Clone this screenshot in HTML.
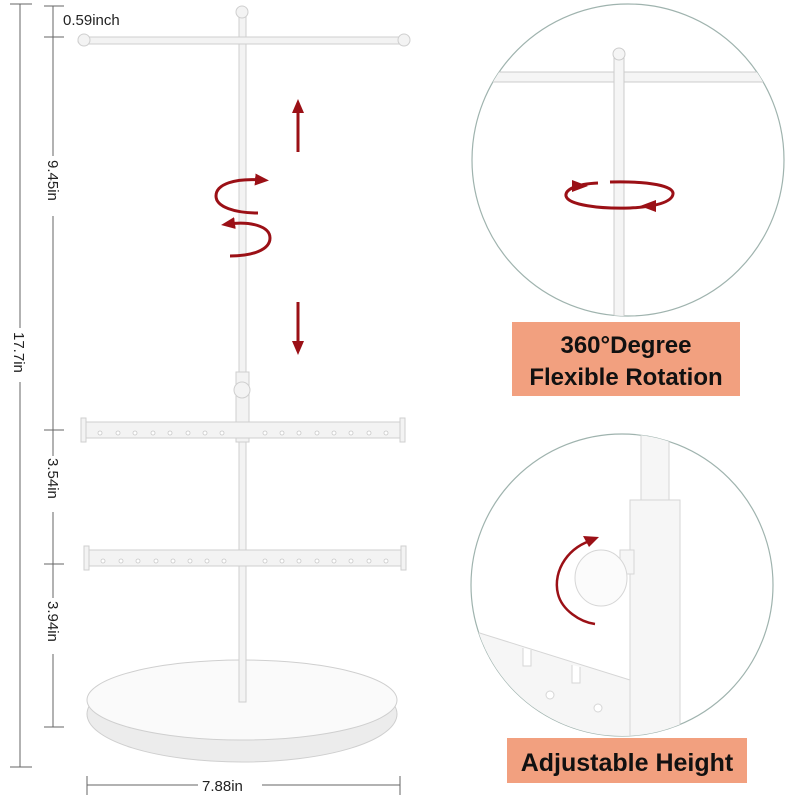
<!DOCTYPE html>
<html><head><meta charset="utf-8"><style>
html,body{margin:0;padding:0;background:#fff;}
svg{display:block;}
text{font-family:"Liberation Sans",Arial,sans-serif;}
</style></head><body>
<svg width="800" height="800" viewBox="0 0 800 800" xmlns="http://www.w3.org/2000/svg">
<defs>
<marker id="ah2" markerWidth="14" markerHeight="12" refX="7" refY="6" orient="auto" markerUnits="userSpaceOnUse">
<path d="M0,0 L14,6 L0,12 Z" fill="#9b1016"/></marker>
<clipPath id="c1"><circle cx="628" cy="160" r="156"/></clipPath>
<clipPath id="c2"><circle cx="622" cy="585" r="151"/></clipPath>
</defs>
<g stroke="#666" stroke-width="1" fill="none">
<line x1="20" y1="4" x2="20" y2="767"/><line x1="10" y1="4" x2="32" y2="4"/><line x1="10" y1="767" x2="32" y2="767"/>
<line x1="53" y1="6" x2="53" y2="37"/><line x1="44" y1="6" x2="64" y2="6"/><line x1="44" y1="37" x2="64" y2="37"/>
<line x1="53" y1="37" x2="53" y2="727"/><line x1="44" y1="430" x2="64" y2="430"/><line x1="44" y1="564" x2="64" y2="564"/><line x1="44" y1="727" x2="64" y2="727"/>
<line x1="87" y1="785" x2="400" y2="785"/><line x1="87" y1="776" x2="87" y2="795"/><line x1="400" y1="776" x2="400" y2="795"/>
</g>
<g fill="#222" font-size="15">
<text x="63" y="25">0.59inch</text>
<rect x="10" y="328" width="20" height="54" fill="#fff"/>
<text transform="translate(14,332) rotate(90)">17.7in</text>
<rect x="45" y="156" width="18" height="60" fill="#fff"/>
<text transform="translate(48,160) rotate(90)">9.45in</text>
<rect x="45" y="456" width="18" height="56" fill="#fff"/>
<text transform="translate(48,458) rotate(90)">3.54in</text>
<rect x="45" y="598" width="18" height="56" fill="#fff"/>
<text transform="translate(48,601) rotate(90)">3.94in</text>
<rect x="198" y="776" width="64" height="20" fill="#fff"/>
<text x="202" y="791">7.88in</text>
</g>
<!-- stand -->
<g fill="#f3f3f3" stroke="#cfcfcf" stroke-width="1">
<ellipse cx="242" cy="714" rx="155" ry="48" fill="#ececec"/>
<ellipse cx="242" cy="700" rx="155" ry="40" fill="#fafafa"/>
<rect x="239" y="12" width="7" height="690"/>
<rect x="78" y="37" width="330" height="7" rx="3"/>
<circle cx="84" cy="40" r="6"/><circle cx="404" cy="40" r="6"/>
<circle cx="242" cy="12" r="6"/>
<rect x="236" y="372" width="13" height="70"/>
<circle cx="242" cy="390" r="8"/>
<rect x="83" y="422" width="320" height="16"/>
<rect x="81" y="418" width="5" height="24"/><rect x="400" y="418" width="5" height="24"/>
<rect x="86" y="550" width="318" height="16"/>
<rect x="84" y="546" width="5" height="24"/><rect x="401" y="546" width="5" height="24"/>
</g>
<g fill="#fff" stroke="#c8c8c8" stroke-width="0.8">
<circle cx="100" cy="433" r="2"/><circle cx="118" cy="433" r="2"/><circle cx="135" cy="433" r="2"/><circle cx="153" cy="433" r="2"/><circle cx="170" cy="433" r="2"/><circle cx="188" cy="433" r="2"/><circle cx="205" cy="433" r="2"/><circle cx="222" cy="433" r="2"/>
<circle cx="265" cy="433" r="2"/><circle cx="282" cy="433" r="2"/><circle cx="299" cy="433" r="2"/><circle cx="317" cy="433" r="2"/><circle cx="334" cy="433" r="2"/><circle cx="351" cy="433" r="2"/><circle cx="369" cy="433" r="2"/><circle cx="386" cy="433" r="2"/>
<circle cx="103" cy="561" r="2"/><circle cx="121" cy="561" r="2"/><circle cx="138" cy="561" r="2"/><circle cx="156" cy="561" r="2"/><circle cx="173" cy="561" r="2"/><circle cx="190" cy="561" r="2"/><circle cx="207" cy="561" r="2"/><circle cx="224" cy="561" r="2"/>
<circle cx="265" cy="561" r="2"/><circle cx="282" cy="561" r="2"/><circle cx="299" cy="561" r="2"/><circle cx="317" cy="561" r="2"/><circle cx="334" cy="561" r="2"/><circle cx="351" cy="561" r="2"/><circle cx="369" cy="561" r="2"/><circle cx="386" cy="561" r="2"/>
</g>
<!-- red arrows -->
<g stroke="#9b1016" stroke-width="3" fill="none">
<line x1="298" y1="152" x2="298" y2="106" marker-end="url(#ah2)"/>
<line x1="298" y1="302" x2="298" y2="348" marker-end="url(#ah2)"/>
<path d="M258,213 C235,213 216,207 216,196 C216,184 235,178 262,180" marker-end="url(#ah2)"/>
<path d="M230,256 C252,256 270,250 270,238 C270,226 250,221 228,224" marker-end="url(#ah2)"/>
</g>
<!-- top circle -->
<circle cx="628" cy="160" r="156" fill="#fff" stroke="#9fb3ae" stroke-width="1.2"/>
<g clip-path="url(#c1)" fill="#f5f5f5" stroke="#ccc">
<rect x="470" y="72" width="330" height="10"/>
<rect x="614" y="55" width="10" height="270"/>
<circle cx="619" cy="54" r="6"/>
</g>
<g stroke="#9b1016" stroke-width="3" fill="none">
<path d="M598,183 C575,184 565,190 566,196 C568,205 600,209 630,208 C655,207 672,202 673,194 C674,186 650,181 610,182"/>
</g>
<path d="M572,180 l16,6 l-16,6 z" fill="#9b1016"/>
<path d="M656,200 l-16,6 l16,6 z" fill="#9b1016"/>
<rect x="512" y="322" width="228" height="74" fill="#f2a07f"/>
<text x="626" y="353" text-anchor="middle" font-size="24" font-weight="bold" fill="#111">360°Degree</text>
<text x="626" y="385" text-anchor="middle" font-size="24" font-weight="bold" fill="#111">Flexible Rotation</text>
<!-- bottom circle -->
<circle cx="622" cy="585" r="151" fill="#fff" stroke="#9fb3ae" stroke-width="1.2"/>
<g clip-path="url(#c2)" fill="#f6f6f6" stroke="#d6d6d6">
<rect x="641" y="420" width="28" height="90"/>
<rect x="630" y="500" width="50" height="240"/>
<path d="M470,630 L630,680 L630,740 L470,740 Z"/>
<path d="M523,648 l0,18 l8,0 l0,-16" fill="#fff"/>
<path d="M572,665 l0,18 l8,0 l0,-16" fill="#fff"/>
<circle cx="550" cy="695" r="4" fill="#fff"/>
<circle cx="598" cy="708" r="4" fill="#fff"/>
<rect x="620" y="550" width="14" height="24"/>
<ellipse cx="601" cy="578" rx="26" ry="28" fill="#fbfbfb"/>
</g>
<path d="M594,540 C570,545 552,570 558,594 C562,610 580,622 595,624" stroke="#9b1016" stroke-width="2.5" fill="none"/>
<path d="M583,536 l16,1 l-10,10 z" fill="#9b1016"/>
<rect x="507" y="738" width="240" height="45" fill="#f2a07f"/>
<text x="627" y="771" text-anchor="middle" font-size="25" font-weight="bold" fill="#111">Adjustable Height</text>
</svg>
</body></html>
